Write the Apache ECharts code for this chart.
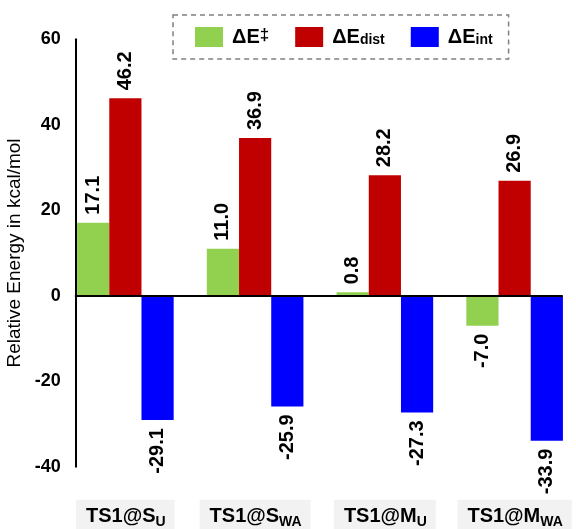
<!DOCTYPE html>
<html>
<head>
<meta charset="utf-8">
<script src="https://cdn.jsdelivr.net/npm/echarts@6/dist/echarts.min.js"></script>
<style>
html,body{margin:0;padding:0;background:#fff;}
#c{width:576px;height:529px;}
</style>
</head>
<body>
<div id="c"></div>
<script>
// ---- data ----
const catMain = ['TS1@S', 'TS1@S', 'TS1@M', 'TS1@M'];
const catSub = ['U', 'WA', 'U', 'WA'];
const seriesNames = ['ΔE‡', 'ΔEdist', 'ΔEint'];
const dE = [17.1, 11.0, 0.8, -7.0];
const dEdist = [46.2, 36.9, 28.2, 26.9];
const dEint = [-29.1, -25.9, -27.3, -33.9];
const yTicks = [-40, -20, 0, 20, 40, 60];

const colors = ['#92D050', '#C00000', '#0000FF'];
const FONT = 'Liberation Sans, Arial, sans-serif';

const posLabel = { position: 'top', rotate: 90, align: 'left', verticalAlign: 'middle', distance: 8 };
const negLabel = { position: 'bottom', rotate: 90, align: 'right', verticalAlign: 'middle', distance: 8 };

function mkData(arr) {
  return arr.map(v => ({ value: v, label: v >= 0 ? posLabel : negLabel }));
}

function mkSeries(name, arr, color) {
  return {
    name: name,
    type: 'bar',
    xAxisIndex: 0,
    yAxisIndex: 0,
    barWidth: 32.2,
    barGap: '0%',
    itemStyle: { color: color },
    label: {
      show: true,
      fontFamily: FONT,
      fontSize: 20,
      fontWeight: 'bold',
      color: '#000',
      formatter: p => p.value.toFixed(1)
    },
    data: mkData(arr)
  };
}

const legendRich = {
  b: { fontFamily: FONT, fontSize: 20, fontWeight: 'bold', color: '#000', lineHeight: 20, padding: [0, 0, 0, 4] },
  sup: { fontFamily: FONT, fontSize: 17, fontWeight: 'bold', color: '#000', lineHeight: 12, verticalAlign: 'top' },
  sub: { fontFamily: FONT, fontSize: 14, fontWeight: 'bold', color: '#000', lineHeight: 6, verticalAlign: 'bottom' }
};

const chart = echarts.init(document.getElementById('c'), null, { renderer: 'canvas' });
chart.setOption({
  animation: false,
  backgroundColor: '#fff',
  legend: {
    data: seriesNames,
    left: 173,
    top: 15,
    padding: [12, 16, 12, 22],
    itemWidth: 28,
    itemHeight: 20,
    itemGap: 26,
    selectedMode: false,
    borderColor: '#808080',
    borderWidth: 1.5,
    borderType: [5, 4],
    icon: 'rect',
    textStyle: { rich: legendRich },
    formatter: function (name) {
      if (name === 'ΔE‡') return '{b|ΔE}{sup|‡}';
      if (name === 'ΔEdist') return '{b|ΔE}{sub|dist}';
      return '{b|ΔE}{sub|int}';
    }
  },
  grid: [
    { left: 60.5, top: 39.3, width: 519, bottom: 62.3, containLabel: false, outerBoundsMode: 'none' },
    { left: 75.7, top: 39.3, right: 14, bottom: 62.3, containLabel: false, outerBoundsMode: 'none' }
  ],
  xAxis: [
    {
      type: 'category',
      gridIndex: 0,
      data: catMain.map((m, i) => m + '|' + catSub[i]),
      axisLine: { show: false, onZero: false },
      axisTick: { show: false },
      axisLabel: {
        margin: 33,
        interval: 0,
        backgroundColor: '#f2f2f2',
        padding: [5, 9, 7, 10],
        formatter: function (v) {
          const parts = v.split('|');
          return '{m|' + parts[0] + '}{s|' + parts[1] + '}';
        },
        rich: {
          m: { fontFamily: FONT, fontSize: 20, fontWeight: 'bold', color: '#000', lineHeight: 24 },
          s: { fontFamily: FONT, fontSize: 14, fontWeight: 'bold', color: '#000', lineHeight: 8, verticalAlign: 'bottom' }
        }
      }
    },
    {
      type: 'value',
      gridIndex: 1,
      min: 0, max: 1,
      z: 10,
      axisLine: { show: true, onZero: true, lineStyle: { color: '#000', width: 2 } },
      axisTick: { show: false },
      axisLabel: { show: false },
      splitLine: { show: false }
    }
  ],
  yAxis: [
    {
      type: 'value',
      gridIndex: 0,
      min: -40, max: 60, interval: 20,
      show: false,
      splitLine: { show: false }
    },
    {
      type: 'value',
      gridIndex: 1,
      min: yTicks[0], max: yTicks[yTicks.length - 1], interval: 20,
      z: 10,
      name: 'Relative Energy in kcal/mol',
      nameLocation: 'middle',
      nameGap: 45,
      nameTextStyle: { fontFamily: FONT, fontSize: 19, color: '#000' },
      axisLine: { show: true, onZero: false, lineStyle: { color: '#000', width: 2 } },
      axisTick: { show: false },
      splitLine: { show: false },
      axisLabel: {
        margin: 15,
        fontFamily: FONT,
        fontSize: 18,
        fontWeight: 'bold',
        color: '#000'
      }
    }
  ],
  series: [
    mkSeries(seriesNames[0], dE, colors[0]),
    mkSeries(seriesNames[1], dEdist, colors[1]),
    mkSeries(seriesNames[2], dEint, colors[2])
  ]
});
</script>
</body>
</html>
